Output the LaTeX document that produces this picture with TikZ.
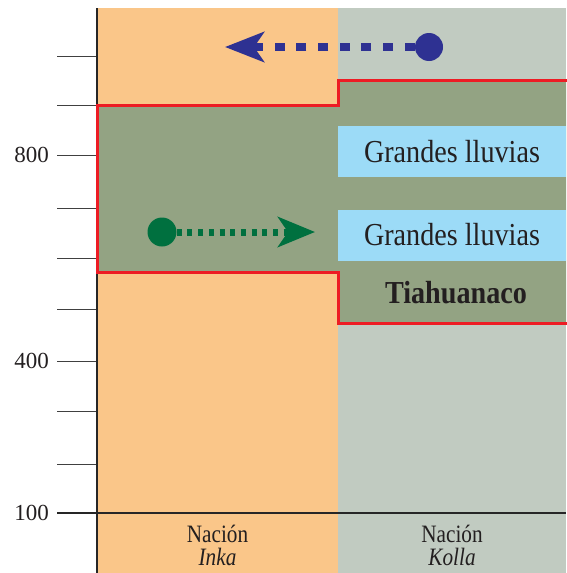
\documentclass[tikz,border=0pt]{standalone}
\usepackage{fontspec}
\setmainfont{Liberation Serif}
\newfontfamily\condfont[FakeStretch=0.88]{Liberation Serif}
\newfontfamily\labfont[FakeStretch=0.85]{Liberation Serif}
\usetikzlibrary{arrows.meta}
\definecolor{inkaC}{HTML}{FAC689}
\definecolor{kollaC}{HTML}{C1CBC1}
\definecolor{tiaC}{HTML}{93A383}
\definecolor{rainC}{HTML}{9CDBF7}
\definecolor{redC}{HTML}{ED1C24}
\definecolor{navyC}{HTML}{2E3192}
\definecolor{dgreenC}{HTML}{00703F}
\definecolor{txtC}{HTML}{231F20}
\tikzset{
  tickline/.style={draw=black!75, line width=1pt},
  axisline/.style={draw=black!85, line width=1.5pt},
  redline/.style={draw=redC, line width=3pt},
  rainbox/.style={fill=rainC, minimum width=228pt, minimum height=51pt, inner sep=0pt, text=txtC, font=\condfont\fontsize{32}{34}\selectfont},
  ticklabel/.style={anchor=east, inner sep=0pt, text=txtC, font=\fontsize{23}{25}\selectfont},
  collabel/.style={anchor=base, inner sep=0pt, text=txtC, font=\labfont\fontsize{25}{27}\selectfont},
  dotnode/.style={circle, inner sep=0pt},
}
\begin{document}
\begin{tikzpicture}[x=1pt, y=-1pt]
\useasboundingbox (0,0) rectangle (566,573);
% columns
\fill[inkaC] (97,8) rectangle (338,573);
\fill[kollaC] (338,8) rectangle (566,573);
% ticks
\foreach \ty in {56,105,155,208,258,309,361,411,464}
  \draw[tickline] (57,\ty) -- (97,\ty);
\node[ticklabel] (l800) at (49,155) {800};
\node[ticklabel] (l400) at (49,361) {400};
\node[ticklabel] (l100) at (49,513) {100};
% axes
\draw[axisline] (97,8) -- (97,573);
\draw[draw=black!85, line width=2pt] (57,513) -- (566,513);
% Tiahuanaco region
\fill[tiaC] (566,80) -- (338,80) -- (338,105) -- (97,105) -- (97,272) -- (338,272) -- (338,323) -- (566,323) -- cycle;
\draw[redline, line join=miter] (568,80) -- (338,80) -- (338,105) -- (97,105) -- (97,272) -- (338,272) -- (338,323) -- (568,323);
% rain boxes
\node[rainbox] (r1) at (452,151.5) {Grandes lluvias};
\node[rainbox] (r2) at (452,235) {Grandes lluvias};
\node[text=txtC, inner sep=0pt, font=\condfont\fontsize{32}{34}\selectfont\bfseries] (tia) at (456,293) {Tiahuanaco};
% arrows
\node[dotnode, fill=navyC, minimum size=28pt] (bc) at (429,47) {};
\coordinate (bt) at (225,47);
\draw[navyC, line width=8pt, dash pattern=on 10pt off 11.7pt,
  -{Stealth[length=39pt, width=30pt, inset=10pt]}] (bc.west) -- (bt);
\node[dotnode, fill=dgreenC, minimum size=29pt] (gc) at (162,232) {};
\coordinate (gt) at (315,232);
\draw[dgreenC, line width=7pt, dash pattern=on 5pt off 5.7pt,
  -{Stealth[length=37pt, width=30pt, inset=10pt]}] (gc.east) -- (gt);
% column labels
\node[collabel] (n1) at (217.5,542) {Nación};
\node[collabel, font=\labfont\fontsize{25}{27}\selectfont\itshape] (i1) at (217.5,565) {Inka};
\node[collabel] (n2) at (452,542) {Nación};
\node[collabel, font=\labfont\fontsize{25}{27}\selectfont\itshape] (k1) at (452,565) {Kolla};
\end{tikzpicture}
\end{document}
